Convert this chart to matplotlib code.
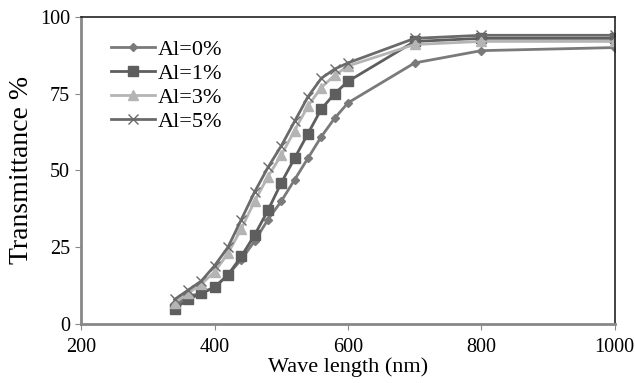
import matplotlib
matplotlib.use("Agg")
import matplotlib.pyplot as plt

wave = [340, 360, 380, 400, 420, 440, 460, 480, 500, 520, 540, 560, 580, 600, 700, 800, 1000]
al0 = [6, 9, 10, 12, 16, 21, 27, 34, 40, 47, 54, 61, 67, 72, 85, 89, 90]
al1 = [5, 8, 10, 12, 16, 22, 29, 37, 46, 54, 62, 70, 75, 79, 92, 93, 93]
al3 = [7, 10, 13, 17, 23, 31, 40, 48, 55, 63, 71, 77, 81, 84, 91, 92, 92]
al5 = [8, 11, 14, 19, 25, 34, 43, 51, 58, 66, 74, 80, 83, 85, 93, 94, 94]
labels = ["Al=0%", "Al=1%", "Al=3%", "Al=5%"]
xticks = [200, 400, 600, 800, 1000]
yticks = [0, 25, 50, 75, 100]

plt.rcParams['font.family'] = ['Liberation Serif', 'DejaVu Serif']

fig = plt.figure(figsize=(6.35, 3.83), dpi=100)
ax = fig.add_axes([0.128, 0.154, 0.840, 0.802])

ax.plot(wave, al0, color="#7a7a7a", marker="D", markersize=4, lw=2, label=labels[0])
ax.plot(wave, al1, color="#5e5e5e", marker="s", markersize=7, lw=2, label=labels[1])
ax.plot(wave, al3, color="#b4b4b4", marker="^", markersize=7, lw=2, label=labels[2])
ax.plot(wave, al5, color="#6a6a6a", marker="x", markersize=7, mew=1, lw=2, label=labels[3])

ax.set_xlim(200, 1000)
ax.set_ylim(0, 100)
ax.set_xticks(xticks)
ax.set_yticks(yticks)
ax.tick_params(axis='x', labelsize=14.5, pad=6, length=4, color="#888888")
ax.tick_params(axis='y', labelsize=14.5, pad=4, length=4, color="#888888")
for s in ["left", "bottom"]:
    ax.spines[s].set_color("#888888")
    ax.spines[s].set_linewidth(2)
for s in ["top", "right"]:
    ax.spines[s].set_color("#222222")
    ax.spines[s].set_linewidth(1.2)

ax.set_xlabel("Wave length (nm)", fontsize=16, labelpad=0)
ax.set_ylabel("Transmittance %", fontsize=20, labelpad=4)

leg = ax.legend(loc="upper left", bbox_to_anchor=(0.03, 0.97), frameon=False,
                fontsize=16, handlelength=2.0, handletextpad=0.1, labelspacing=0.15,
                borderaxespad=0.2)

fig.savefig("out.png", dpi=100)
